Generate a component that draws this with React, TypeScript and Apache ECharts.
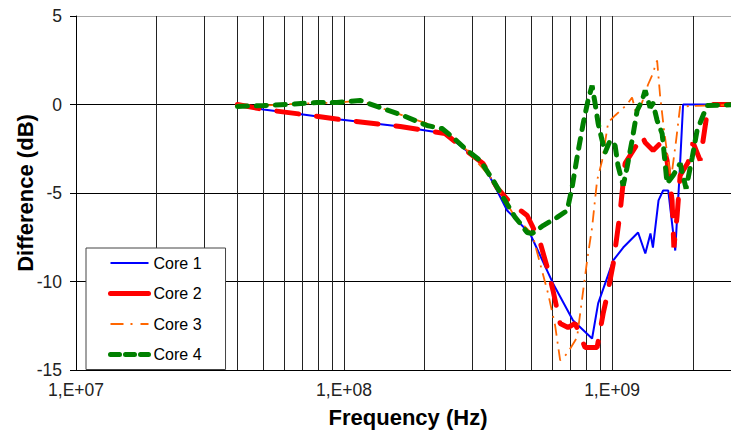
import React, { useEffect, useRef } from "react";
import * as echarts from "echarts";

const seriesNames = ["Core 1", "Core 2", "Core 3", "Core 4"];

const core1Freq = [4e7, 5e7, 7.03e7, 9.66e7, 1.62e8, 2.38e8, 2.95e8, 3.3e8, 3.72e8, 4.06e8, 4.94e8, 6.02e8, 7.15e8, 8.42e8, 8.87e8, 1.01e9, 1.1e9, 1.25e9, 1.33e9, 1.39e9, 1.42e9, 1.49e9, 1.55e9, 1.62e9, 1.72e9, 1.78e9, 1.84e9, 3e9];
const core1Db = [0, -0.28, -0.56, -0.85, -1.24, -1.64, -2.77, -3.33, -4.86, -5.99, -7.29, -10.11, -12.2, -13.22, -11.24, -8.81, -8.08, -7.23, -8.42, -7.29, -8.08, -5.42, -4.86, -4.86, -8.25, -4.29, 0, 0];

const core2Freq = [4e7, 5e7, 7.03e7, 9.66e7, 1.62e8, 2.38e8, 2.95e8, 3.3e8, 3.72e8, 4.16e8, 4.82e8, 5.03e8, 5.39e8, 5.77e8, 6.02e8, 6.4e8, 6.85e8, 7.28e8, 7.93e8, 8.79e8, 9.26e8, 9.58e8, 1.01e9, 1.07e9, 1.118e9, 1.219e9, 1.294e9, 1.328e9, 1.422e9, 1.537e9, 1.603e9, 1.674e9, 1.7e9, 1.748e9, 1.794e9, 1.92e9, 2.005e9, 2.13e9, 2.26e9, 2.36e9, 3e9];
const core2Db = [0, -0.28, -0.56, -0.85, -1.24, -1.64, -2.77, -3.33, -4.69, -5.54, -6.27, -6.84, -7.8, -9.38, -10.51, -12.37, -12.6, -12.37, -13.73, -13.73, -11.81, -10.79, -8.98, -6.16, -3.33, -2.43, -1.75, -2.15, -2.6, -2.09, -3.16, -5.42, -8.08, -6.27, -4.01, -3.28, -2.15, -3.16, -0.51, 0, 0];

const core3Freq = [4e7, 5e7, 7.03e7, 9.66e7, 1.148e8, 1.36e8, 1.66e8, 2.32e8, 2.88e8, 3.6e8, 4.35e8, 5.03e8, 5.77e8, 6.13e8, 6.4e8, 6.8e8, 7.4e8, 8.07e8, 8.42e8, 8.79e8, 9.18e8, 9.67e8, 1.026e9, 1.137e9, 1.187e9, 1.229e9, 1.282e9, 1.362e9, 1.41e9, 1.472e9, 1.51e9, 1.563e9, 1.618e9, 1.66e9, 1.733e9, 1.794e9, 3e9];
const core3Db = [0, -0.06, 0.06, 0.11, 0.23, -0.17, -0.62, -1.36, -2.6, -4.29, -6.38, -7.29, -10.68, -12.49, -14.46, -14.07, -13.16, -8.81, -6.95, -4.29, -3.16, -1.02, -0.62, 0, 0.4, -0.51, -0.06, 1.13, 1.64, 2.49, 0.51, -1.47, -3.16, -4.18, -2.03, -0.11, 0];

const core4Freq = [4e7, 5e7, 6.1e7, 7.93e7, 9.42e7, 1.148e8, 1.36e8, 1.66e8, 2.04e8, 2.32e8, 2.55e8, 2.88e8, 3.22e8, 3.6e8, 3.92e8, 4.35e8, 4.54e8, 4.82e8, 5.03e8, 5.53e8, 6.23e8, 6.8e8, 7.09e8, 7.4e8, 7.8e8, 8.13e8, 8.42e8, 8.64e8, 8.87e8, 9.18e8, 9.42e8, 9.83e8, 1.026e9, 1.052e9, 1.1e9, 1.137e9, 1.187e9, 1.24e9, 1.294e9, 1.328e9, 1.362e9, 1.386e9, 1.422e9, 1.472e9, 1.537e9, 1.577e9, 1.603e9, 1.689e9, 1.794e9, 1.888e9, 1.99e9, 2.075e9, 2.26e9, 3e9];
const core4Db = [-0.11, -0.06, 0, 0.11, 0.11, 0.23, -0.17, -0.62, -1.19, -1.36, -1.86, -2.6, -3.16, -4.29, -5.25, -6.38, -6.72, -7.23, -7.29, -6.84, -6.38, -5.99, -4.69, -2.99, -1.07, 0.23, 1.07, 0.06, -1.07, -2.03, -2.71, -2.03, -2.32, -3.45, -4.58, -3.56, -2.03, -0.34, 0.23, 0.79, 0.23, -0.17, 0.06, -0.9, -1.64, -3.33, -4.46, -4.01, -3.33, -4.75, -2.99, -1.47, -0.06, 0];

const minorGridFreqs = [2e7, 3e7, 4e7, 5e7, 6e7, 7e7, 8e7, 9e7, 2e8, 3e8, 4e8, 5e8, 6e8, 7e8, 8e8, 9e8, 2e9];

const xMin = 1e7;
const xMax = 3e9;
const yMin = -15;
const yMax = 5;
const yStep = 5;

const FONT = "'Liberation Sans', Arial, sans-serif";

const styles: Record<string, any> = {
  "Core 1": { color: "#0000ff", width: 2, type: "solid" },
  "Core 2": { color: "#ff0000", width: 5, type: [22, 18], cap: "round" },
  "Core 3": { color: "#ff6600", width: 1.8, type: [12, 6, 2, 6] },
  "Core 4": { color: "#008000", width: 5, type: [10, 9], cap: "round" },
};
const legendStyles: Record<string, any> = {
  "Core 1": { color: "#0000ff", width: 2, type: "solid" },
  "Core 2": { color: "#ff0000", width: 5, type: "solid", cap: "round" },
  "Core 3": { color: "#ff6600", width: 1.8, type: [13, 7, 2, 8] },
  "Core 4": { color: "#008000", width: 5, type: [9, 6], cap: "round" },
};

function zip(f: number[], d: number[]) {
  return f.map((v, i) => [v, d[i]]);
}

export default function App() {
  const ref = useRef<HTMLDivElement>(null);
  useEffect(() => {
    if (!ref.current) return;
    const chart = echarts.init(ref.current, null, { renderer: "svg" });
    const mk = (name: string, f: number[], d: number[], extra: any = {}) => ({
      name,
      type: "line",
      data: zip(f, d),
      showSymbol: false,
      symbol: "none",
      lineStyle: styles[name],
      itemStyle: { color: styles[name].color },
      ...extra,
    });
    const option: any = {
      animation: false,
      backgroundColor: "#fff",
      grid: { left: 76, top: 16, right: -9, bottom: 65, outerBoundsMode: "none", containLabel: false },
      legend: {
        data: seriesNames.map((n) => ({
          name: n,
          lineStyle: legendStyles[n],
          itemStyle: { opacity: 0 },
        })),
        orient: "vertical",
        left: 86,
        top: 248,
        itemWidth: 38,
        itemHeight: 14,
        itemGap: 14.5,
        padding: [7, 24, 7, 22],
        backgroundColor: "#fff",
        borderColor: "#444",
        borderWidth: 1,
        borderRadius: 0,
        textStyle: { fontSize: 16, color: "#000", fontFamily: FONT },
        z: 10,
      },
      xAxis: {
        type: "log",
        logBase: 10,
        min: xMin,
        max: xMax,
        name: "Frequency (Hz)",
        nameLocation: "middle",
        nameGap: 36,
        nameMoveOverlap: false,
        nameTextStyle: { fontSize: 22, fontWeight: "bold", color: "#000", fontFamily: FONT },
        axisLine: { show: true, lineStyle: { color: "#000", width: 1 } },
        axisTick: { show: true, inside: false, length: 6, lineStyle: { color: "#000" } },
        axisLabel: {
          show: true,
          margin: 11,
          fontSize: 17.5,
          color: "#222",
          fontFamily: FONT,
          showMinLabel: true,
          formatter: (v: number) => {
            const l = Math.log10(v);
            const e = Math.round(l);
            if (Math.abs(l - e) > 1e-6) return "";
            return "1,E+" + String(e).padStart(2, "0");
          },
        },
        splitLine: { show: true, lineStyle: { color: "#222", width: 1 } },
        minorTick: { show: false },
        minorSplitLine: { show: false },
      },
      yAxis: {
        type: "value",
        min: yMin,
        max: yMax,
        interval: yStep,
        name: "Difference (dB)",
        nameLocation: "middle",
        nameRotate: 90,
        nameGap: 40,
        nameMoveOverlap: false,
        nameTextStyle: { fontSize: 22, fontWeight: "bold", color: "#000", fontFamily: FONT },
        axisLine: { show: true, lineStyle: { color: "#000", width: 1 } },
        axisTick: { show: true, inside: false, length: 6, lineStyle: { color: "#000" } },
        axisLabel: { show: true, margin: 14, fontSize: 17.5, color: "#222", fontFamily: FONT },
        splitLine: {
          show: true,
          lineStyle: { color: ["#000", "#000", "#000", "#000", "#a8a8a8"], width: 1 },
        },
      },
      series: [
        mk("Core 1", core1Freq, core1Db, {
          markLine: {
            silent: true,
            symbol: ["none", "none"],
            z: 1,
            label: { show: false },
            lineStyle: { color: "#222", width: 1, type: "solid" },
            emphasis: { disabled: true },
            data: minorGridFreqs.map((v) => ({ xAxis: v })),
          },
        }),
        mk("Core 2", core2Freq, core2Db),
        mk("Core 3", core3Freq, core3Db),
        mk("Core 4", core4Freq, core4Db),
      ],
    };
    chart.setOption(option);
    return () => chart.dispose();
  }, []);
  return (
    <div
      ref={ref}
      style={{ position: "absolute", left: 0, top: 0, width: 731, height: 435, background: "#fff" }}
    />
  );
}
